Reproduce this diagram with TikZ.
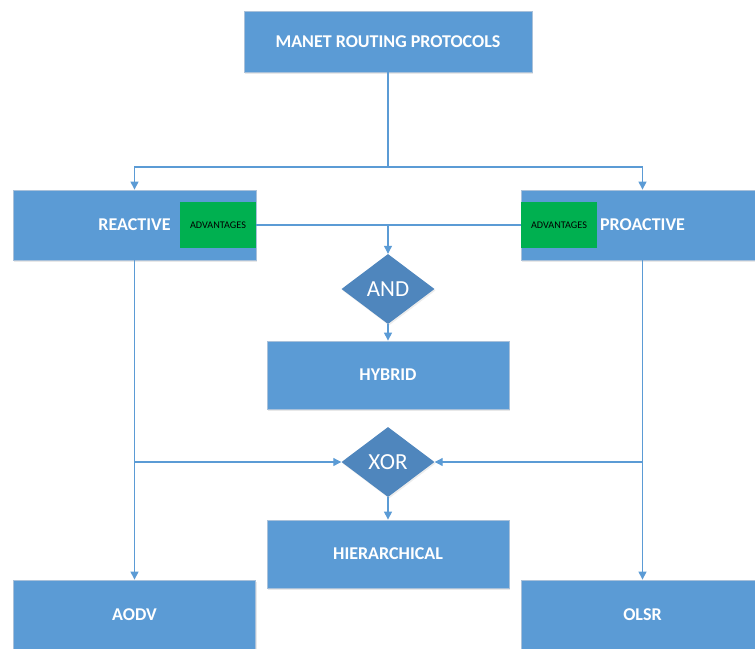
\documentclass[tikz,border=0pt]{standalone}
\usepackage{fontspec}
\setmainfont{Carlito}
\usetikzlibrary{arrows.meta,shapes.geometric,shadows}
\definecolor{boxblue}{HTML}{5B9BD5}
\definecolor{boxedge}{HTML}{A9C1DA}
\definecolor{gateblue}{HTML}{4F86BD}
\definecolor{advgreen}{HTML}{00B050}
\definecolor{linkblue}{HTML}{5B9BD5}
\tikzset{
  protobox/.style={rectangle, fill=boxblue, draw=boxedge, line width=0.8pt,
    text=white, font=\bfseries\fontsize{18}{20}\selectfont, inner sep=0pt,
    drop shadow={opacity=0.18, shadow xshift=1pt, shadow yshift=-1.5pt}},
  advbox/.style={rectangle, fill=advgreen, draw=none, inner sep=0pt,
    minimum width=76pt, minimum height=46pt, text=black,
    font=\fontsize{10.2}{12}\selectfont},
  gate/.style={diamond, fill=gateblue, draw=none, inner sep=0pt,
    minimum width=93pt, minimum height=70pt, text=white,
    font=\fontsize{23}{26}\selectfont,
    drop shadow={opacity=0.15, shadow xshift=1pt, shadow yshift=-1.5pt}},
  link/.style={draw=linkblue, line width=1.1pt},
  flow/.style={link, -{Triangle[width=8pt,length=8pt]}},
}
\begin{document}
\begin{tikzpicture}[x=1pt,y=-1pt]
  \useasboundingbox (0,0) rectangle (755,648);
  \begin{scope}
  \clip (0,0) rectangle (755,648);

  % protocol boxes
  \node[protobox, minimum width=288pt, minimum height=61pt] (manet) at (388,41.5) {MANET ROUTING PROTOCOLS};
  \node[protobox, minimum width=243pt, minimum height=70pt] (reactive) at (134.5,225) {REACTIVE};
  \node[protobox, minimum width=243pt, minimum height=70pt] (proactive) at (642.5,225) {PROACTIVE};
  \node[protobox, minimum width=242pt, minimum height=68pt] (hybrid) at (388,375) {HYBRID};
  \node[protobox, minimum width=242pt, minimum height=68pt] (hier) at (388,554) {HIERARCHICAL};
  \node[protobox, minimum width=242pt, minimum height=70pt] (aodv) at (134.5,615) {AODV};
  \node[protobox, minimum width=243pt, minimum height=70pt] (olsr) at (642.5,615) {OLSR};

  % advantage tags
  \node[advbox] (advl) at (218,225) {ADVANTAGES};
  \node[advbox] (advr) at (559,225) {ADVANTAGES};

  % logic gates
  \node[gate] (and) at (388,289) {AND};
  \node[gate] (xor) at (388,462) {XOR};

  % junction points
  \coordinate (split) at (388,167);
  \coordinate (join) at (388,225);
  \coordinate (xl) at (reactive.south |- xor.west);
  \coordinate (xr) at (proactive.south |- xor.east);

  % connectors
  \draw[link] (manet.south) -- (split);
  \draw[flow] (split) -| (reactive.north);
  \draw[flow] (split) -| (proactive.north);
  \draw[link] (advl.east) -- (advr.west);
  \draw[flow] (join) -- (and.north);
  \draw[flow] (and.south) -- (hybrid.north);
  \draw[flow] (reactive.south) -- (aodv.north);
  \draw[flow] (proactive.south) -- (olsr.north);
  \draw[flow] (xl) -- (xor.west);
  \draw[flow] (xr) -- (xor.east);
  \draw[flow] (xor.south) -- (hier.north);
  \end{scope}
\end{tikzpicture}
\end{document}
